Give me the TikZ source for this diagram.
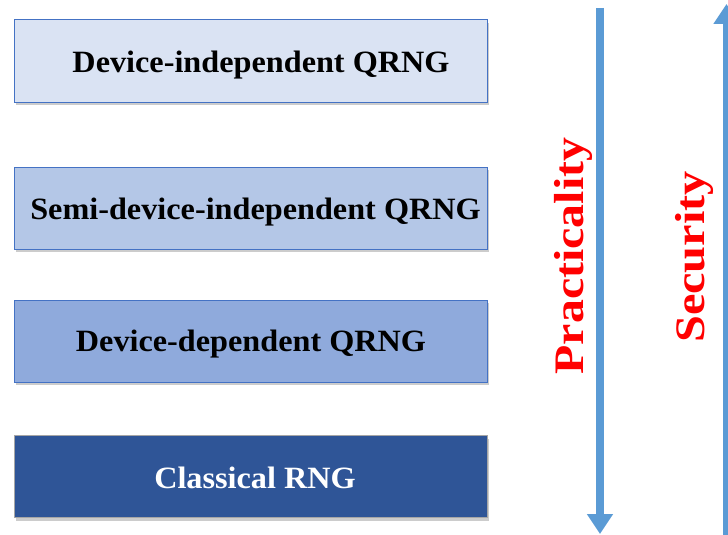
\documentclass[tikz,border=0pt]{standalone}
\usepackage{fontspec}
\setmainfont{Liberation Serif}
\usetikzlibrary{shadows,arrows.meta}
\definecolor{boxA}{HTML}{DAE3F3}
\definecolor{boxB}{HTML}{B4C7E7}
\definecolor{boxC}{HTML}{8FAADC}
\definecolor{boxD}{HTML}{2F5597}
\definecolor{edgeblue}{HTML}{4472C4}
\definecolor{arrowblue}{HTML}{5B9BD5}
\tikzset{
  level/.style={draw=edgeblue, line width=1pt, minimum width=473pt, minimum height=82pt,
    inner sep=0pt,
    drop shadow={shadow xshift=2pt, shadow yshift=-3pt, fill=black!40, opacity=0.5}},
  leveltext/.style={inner sep=0pt, font=\bfseries\fontsize{31}{34}\selectfont},
  axis/.style={draw=arrowblue, line width=8pt, -{Triangle[width=25pt,length=20pt]}},
  axislabel/.style={text=red, font=\bfseries\fontsize{42}{46}\selectfont, rotate=90, inner sep=0pt}
}
\newcommand{\widen}[2]{\scalebox{#1}[1]{#2}}
\begin{document}
\begin{tikzpicture}[x=1pt,y=-1pt]
\useasboundingbox (0,0) rectangle (728,535);
% the four levels
\node[level, fill=boxA] (di) at (250.5,61) {};
\node[level, fill=boxB] (sdi) at (250.5,208) {};
\node[level, fill=boxC] (dd) at (250.5,341) {};
\node[level, fill=boxD, draw=black!35] (cl) at (250.5,476.5) {};
\node[leveltext] (diT) at ([xshift=10.5pt,yshift=-4pt]di.center) {\widen{1.04}{Device-independent QRNG}};
\node[leveltext] (sdiT) at ([xshift=5pt,yshift=-4pt]sdi.center) {\widen{1.04}{Semi-device-independent QRNG}};
\node[leveltext] (ddT) at ([xshift=0.5pt,yshift=-3pt]dd.center) {\widen{1.04}{Device-dependent QRNG}};
\node[leveltext, text=white] (clT) at ([xshift=4.5pt,yshift=-1pt]cl.center) {\widen{1.04}{Classical RNG}};
% downward axis: practicality
\coordinate (pTop) at (600,8);
\coordinate (pBot) at (600,534);
\draw[axis] (pTop) -- (pBot);
\node[axislabel] (prac) at (573.5,256) {\widen{1.14}{Practicality}};
% upward axis: security
\coordinate (sBot) at (726.5,540);
\coordinate (sTop) at (726.5,4);
\draw[axis] (sBot) -- (sTop);
\node[axislabel] (sec) at (694,257) {\widen{1.15}{Security}};
\end{tikzpicture}
\end{document}
